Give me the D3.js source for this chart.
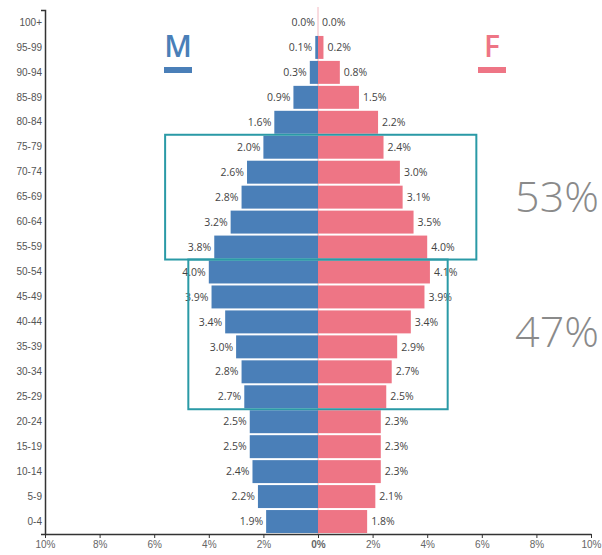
<!DOCTYPE html>
<html>
<head>
<meta charset="utf-8">
<script src="https://cdn.jsdelivr.net/npm/d3@7"></script>
<style>
  body { margin: 0; background: #fff; }
  svg { display: block; font-family: "Open Sans", "DejaVu Sans", sans-serif; }
</style>
</head>
<body>
<svg id="pyramid"></svg>
<script>
// age groups, top to bottom
const ageGroups = ['100+', '95-99', '90-94', '85-89', '80-84', '75-79', '70-74', '65-69', '60-64', '55-59',
  '50-54', '45-49', '40-44', '35-39', '30-34', '25-29', '20-24', '15-19', '10-14', '5-9', '0-4'];

// share of population, %
const male = [0.0, 0.1, 0.3, 0.9, 1.6, 2.0, 2.6, 2.8, 3.2, 3.8,
  4.0, 3.9, 3.4, 3.0, 2.8, 2.7, 2.5, 2.5, 2.4, 2.2, 1.9];
const female = [0.0, 0.2, 0.8, 1.5, 2.2, 2.4, 3.0, 3.1, 3.5, 4.0,
  4.1, 3.9, 3.4, 2.9, 2.7, 2.5, 2.3, 2.3, 2.3, 2.1, 1.8];

const xTicks = [-10, -8, -6, -4, -2, 0, 2, 4, 6, 8, 10];

// highlighted age brackets: first/last group, extent in %, share label
const groupFrom = ['75-79', '50-54'];
const groupTo = ['55-59', '25-29'];
const groupLeft = [-5.6, -4.75];
const groupRight = [5.8, 4.75];
const groupShare = ['53%', '47%'];

const width = 602;
const height = 555;
const margin = {top: 10, right: 11, bottom: 21, left: 45};

const blue = '#4a7fb8';
const pink = '#ee7585';
const teal = '#2a9aa6';

const svg = d3.select('svg#pyramid')
  .attr('width', width)
  .attr('height', height);

const x = d3.scaleLinear()
  .domain([-10, 10])
  .range([margin.left, width - margin.right]);

const y = d3.scaleBand()
  .domain(ageGroups)
  .range([margin.top, height - margin.bottom])
  .paddingInner(0.08)
  .paddingOuter(0.04);

// center line
svg.append('line')
  .attr('x1', x(0)).attr('x2', x(0))
  .attr('y1', margin.top - 3).attr('y2', height - margin.bottom)
  .attr('stroke', '#f2b8c0')
  .attr('stroke-width', 1);

// bars
svg.append('g')
  .selectAll('rect')
  .data(male)
  .join('rect')
  .attr('x', d => x(-d))
  .attr('y', (d, i) => y(ageGroups[i]))
  .attr('width', d => x(0) - x(-d))
  .attr('height', y.bandwidth())
  .attr('fill', blue);

svg.append('g')
  .selectAll('rect')
  .data(female)
  .join('rect')
  .attr('x', x(0))
  .attr('y', (d, i) => y(ageGroups[i]))
  .attr('width', d => x(d) - x(0))
  .attr('height', y.bandwidth())
  .attr('fill', pink);

// value labels
svg.append('g')
  .selectAll('text')
  .data(male)
  .join('text')
  .attr('x', d => x(-d) - 3)
  .attr('y', (d, i) => y(ageGroups[i]) + y.bandwidth() / 2)
  .attr('dy', '0.35em')
  .attr('text-anchor', 'end')
  .attr('font-size', 10.5)
  .attr('fill', '#444')
  .text(d => d.toFixed(1) + '%');

svg.append('g')
  .selectAll('text')
  .data(female)
  .join('text')
  .attr('x', d => x(d) + 4)
  .attr('y', (d, i) => y(ageGroups[i]) + y.bandwidth() / 2)
  .attr('dy', '0.35em')
  .attr('font-size', 10.5)
  .attr('fill', '#444')
  .text(d => d.toFixed(1) + '%');

// highlight boxes
const boxes = groupShare.map((s, i) => ({
  top: y(groupFrom[i]) - y.step() * y.paddingInner() / 2,
  bottom: y(groupTo[i]) + y.bandwidth() + y.step() * y.paddingInner() / 2,
  left: x(groupLeft[i]),
  right: x(groupRight[i]),
  share: s
}));

svg.append('g')
  .selectAll('rect')
  .data(boxes)
  .join('rect')
  .attr('x', d => d.left)
  .attr('y', d => d.top)
  .attr('width', d => d.right - d.left)
  .attr('height', d => d.bottom - d.top)
  .attr('fill', 'none')
  .attr('stroke', teal)
  .attr('stroke-width', 2);

svg.append('g')
  .selectAll('text')
  .data(boxes)
  .join('text')
  .attr('x', 557)
  .attr('y', (d, i) => (d.top + d.bottom) / 2 + (i === 0 ? 0 : -2))
  .attr('dy', '0.35em')
  .attr('text-anchor', 'middle')
  .attr('font-size', 43)
  .attr('font-weight', 300)
  .attr('fill', '#8a8a8a')
  .text(d => d.share);

// axes
svg.append('g')
  .attr('class', 'axis')
  .attr('transform', `translate(${margin.left},0)`)
  .call(d3.axisLeft(y).tickSizeInner(0).tickSizeOuter(4).tickPadding(3))
  .call(g => g.select('.domain').attr('stroke', '#333').attr('stroke-width', 1.5))
  .call(g => g.selectAll('.tick text').attr('fill', '#555').attr('font-size', 10));

svg.append('g')
  .attr('class', 'axis')
  .attr('transform', `translate(0,${height - margin.bottom})`)
  .call(d3.axisBottom(x).tickValues(xTicks).tickFormat(d => Math.abs(d) + '%').tickSizeInner(4).tickSizeOuter(0).tickPadding(3))
  .call(g => g.select('.domain').attr('stroke', '#333').attr('stroke-width', 1.5))
  .call(g => g.selectAll('.tick line').attr('stroke', '#333'))
  .call(g => g.selectAll('.tick text').attr('fill', '#666').attr('font-size', 10)
    .attr('font-weight', d => d === 0 ? 'bold' : 'normal'));

// legend
const legend = [
  {label: 'M', color: blue, cx: 178},
  {label: 'F', color: pink, cx: 492}
];

svg.append('g')
  .selectAll('text')
  .data(legend)
  .join('text')
  .attr('x', d => d.cx)
  .attr('y', 57)
  .attr('text-anchor', 'middle')
  .attr('font-size', 30)
  .attr('font-weight', 600)
  .attr('fill', d => d.color)
  .text(d => d.label);

svg.append('g')
  .selectAll('rect')
  .data(legend)
  .join('rect')
  .attr('x', d => d.cx - 14)
  .attr('y', 67)
  .attr('width', 28)
  .attr('height', 6)
  .attr('fill', d => d.color);
</script>
</body>
</html>
